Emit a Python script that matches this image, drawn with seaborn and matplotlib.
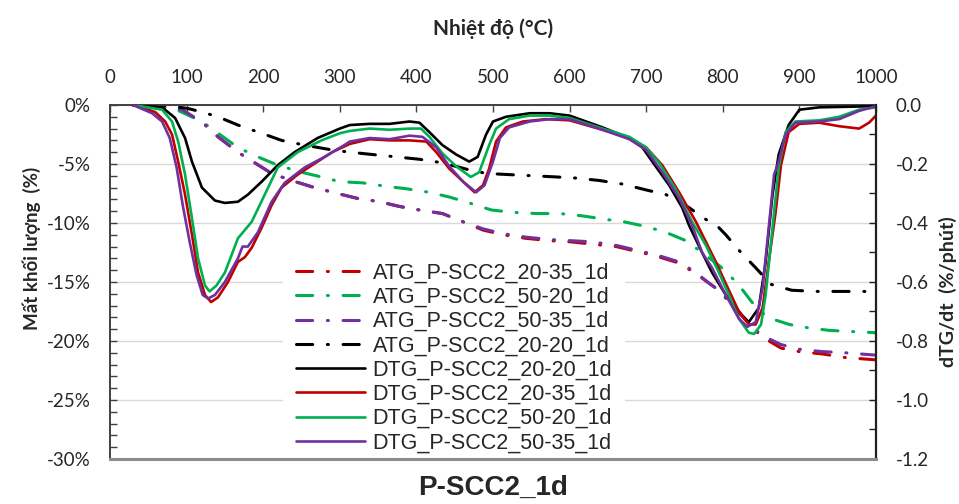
import pandas as pd
import seaborn as sns
import matplotlib.pyplot as plt
from matplotlib.ticker import MultipleLocator, FuncFormatter

# ATG (mass loss, %) - left axis
t_atg_red = [30, 60, 94, 121, 141, 167, 189, 211, 237, 267, 297, 322, 352, 378, 404, 434, 461, 487, 513, 543,
             574, 602, 630, 661, 687, 713, 743, 765, 782, 795, 821, 850, 876, 900, 930, 960, 1000]
atg_red = [0, -0.1, -0.4, -1.5, -2.7, -4.0, -4.9, -5.8, -6.4, -7.0, -7.5, -7.9, -8.2, -8.6, -8.9, -9.2, -9.9, -10.6,
           -11.0, -11.3, -11.5, -11.6, -11.8, -12.0, -12.4, -12.8, -13.4, -14.3, -15.1, -15.7, -17.6, -19.6, -20.6,
           -20.9, -21.1, -21.4, -21.6]

t_atg_green = [30, 60, 90, 120, 139, 167, 193, 219, 250, 276, 300, 330, 361, 387, 417, 443, 469, 498, 526, 557,
               587, 617, 648, 671, 700, 726, 752, 773, 797, 819, 838, 858, 887, 913, 939, 969, 1000]
atg_green = [0, -0.1, -0.5, -1.4, -2.3, -3.6, -4.4, -5.1, -5.7, -6.1, -6.5, -6.6, -6.9, -7.1, -7.4, -7.8, -8.3, -8.9,
             -9.1, -9.2, -9.2, -9.4, -9.7, -9.9, -10.3, -10.8, -11.5, -12.5, -13.7, -15.1, -16.7, -18.0, -18.6,
             -18.9, -19.1, -19.2, -19.3]

t_atg_purple = [30, 60, 94, 121, 141, 167, 189, 211, 237, 267, 297, 322, 352, 378, 404, 434, 461, 487, 513, 543,
                574, 602, 630, 661, 687, 713, 743, 765, 782, 795, 821, 850, 876, 900, 930, 960, 1000]
atg_purple = [0, -0.1, -0.4, -1.5, -2.7, -4.0, -4.9, -5.8, -6.4, -7.0, -7.5, -7.9, -8.2, -8.6, -8.9, -9.2, -9.9,
              -10.5, -10.9, -11.2, -11.4, -11.5, -11.6, -11.9, -12.3, -12.7, -13.3, -14.2, -15.1, -15.7, -17.6,
              -19.5, -20.3, -20.7, -20.9, -21.0, -21.2]

t_atg_black = [30, 60, 80, 102, 120, 141, 167, 198, 224, 254, 289, 313, 343, 374, 404, 434, 469, 491, 521, 552,
               583, 610, 639, 669, 700, 726, 756, 778, 795, 804, 821, 843, 863, 890, 922, 1000]
atg_black = [0, 0, -0.1, -0.3, -0.6, -1.0, -1.7, -2.4, -3.0, -3.4, -3.8, -4.0, -4.2, -4.4, -4.6, -4.9, -5.5, -5.8,
             -5.9, -6.0, -6.1, -6.2, -6.4, -6.7, -7.2, -7.6, -8.7, -9.7, -10.4, -11.0, -12.3, -13.8, -15.2, -15.7,
             -15.8, -15.8]

# DTG (%/phut) - right axis
t_dtg_black = [30, 68, 85, 98, 107, 120, 137, 150, 167, 180, 198, 219, 241, 271, 300, 313, 339, 365, 391, 404,
               417, 434, 452, 469, 480, 491, 500, 517, 548, 574, 600, 643, 678, 695, 708, 730, 747, 756, 773, 786,
               804, 825, 834, 847, 856, 865, 873, 886, 900, 926, 1000]
dtg_black = [0, -0.008, -0.044, -0.112, -0.192, -0.28, -0.324, -0.332, -0.328, -0.304, -0.26, -0.204, -0.16,
             -0.112, -0.08, -0.068, -0.064, -0.064, -0.056, -0.06, -0.092, -0.136, -0.168, -0.192, -0.176, -0.10,
             -0.056, -0.04, -0.028, -0.028, -0.036, -0.076, -0.112, -0.144, -0.192, -0.272, -0.348, -0.408, -0.50,
             -0.568, -0.644, -0.712, -0.736, -0.688, -0.532, -0.304, -0.168, -0.068, -0.016, -0.008, -0.004]

t_dtg_red = [30, 59, 72, 81, 89, 98, 107, 115, 124, 132, 141, 154, 167, 176, 185, 198, 211, 224, 245, 271, 290,
             313, 339, 365, 391, 413, 426, 443, 461, 476, 487, 495, 504, 517, 539, 569, 600, 643, 678, 700, 721,
             743, 765, 778, 791, 808, 821, 834, 843, 852, 860, 869, 876, 886, 900, 926, 952, 978, 991, 1000]
dtg_red = [0, -0.024, -0.056, -0.10, -0.192, -0.304, -0.44, -0.568, -0.644, -0.668, -0.652, -0.60, -0.532,
           -0.516, -0.484, -0.416, -0.34, -0.28, -0.236, -0.192, -0.16, -0.132, -0.116, -0.12, -0.12, -0.124,
           -0.16, -0.216, -0.26, -0.296, -0.272, -0.216, -0.124, -0.076, -0.056, -0.048, -0.052, -0.084, -0.112,
           -0.144, -0.204, -0.296, -0.396, -0.464, -0.532, -0.628, -0.70, -0.744, -0.744, -0.688, -0.532, -0.364,
           -0.204, -0.092, -0.064, -0.06, -0.072, -0.08, -0.06, -0.036]

t_dtg_green = [30, 68, 81, 89, 98, 107, 115, 124, 130, 139, 150, 167, 185, 202, 219, 245, 276, 300, 313, 339,
               365, 391, 406, 417, 434, 452, 471, 482, 495, 504, 521, 548, 574, 600, 643, 678, 700, 717, 739, 760,
               778, 795, 808, 821, 834, 841, 850, 856, 865, 873, 882, 895, 926, 952, 978, 1000]
dtg_green = [0, -0.016, -0.056, -0.124, -0.236, -0.384, -0.52, -0.612, -0.632, -0.612, -0.568, -0.452, -0.396,
             -0.304, -0.212, -0.16, -0.12, -0.096, -0.088, -0.08, -0.084, -0.08, -0.08, -0.108, -0.164, -0.208,
             -0.244, -0.228, -0.136, -0.08, -0.048, -0.036, -0.036, -0.044, -0.08, -0.108, -0.144, -0.196, -0.288,
             -0.396, -0.476, -0.568, -0.644, -0.724, -0.772, -0.776, -0.744, -0.644, -0.416, -0.212, -0.092,
             -0.056, -0.052, -0.04, -0.016, -0.008]

t_dtg_purple = [30, 55, 68, 78, 87, 95, 104, 113, 121, 128, 137, 150, 167, 173, 180, 193, 211, 228, 254, 280,
                306, 313, 339, 365, 391, 408, 426, 443, 461, 478, 489, 500, 509, 521, 548, 574, 600, 643, 678, 700,
                721, 743, 760, 773, 786, 804, 821, 832, 843, 852, 860, 867, 873, 882, 895, 926, 952, 978, 1000]
dtg_purple = [0, -0.028, -0.056, -0.112, -0.212, -0.34, -0.464, -0.576, -0.644, -0.656, -0.644, -0.60, -0.52,
              -0.48, -0.48, -0.432, -0.328, -0.264, -0.212, -0.176, -0.136, -0.124, -0.112, -0.116, -0.104, -0.108,
              -0.144, -0.208, -0.26, -0.296, -0.272, -0.192, -0.112, -0.076, -0.056, -0.048, -0.048, -0.084,
              -0.116, -0.152, -0.228, -0.316, -0.408, -0.50, -0.552, -0.644, -0.724, -0.752, -0.736, -0.62, -0.416,
              -0.236, -0.192, -0.10, -0.06, -0.056, -0.048, -0.02, -0.004]

atg_series = [
    (t_atg_red, atg_red, '#C00000', 'ATG_P-SCC2_20-35_1d'),
    (t_atg_green, atg_green, '#00B050', 'ATG_P-SCC2_50-20_1d'),
    (t_atg_purple, atg_purple, '#7030A0', 'ATG_P-SCC2_50-35_1d'),
    (t_atg_black, atg_black, '#000000', 'ATG_P-SCC2_20-20_1d'),
]
dtg_series = [
    (t_dtg_black, dtg_black, '#000000', 'DTG_P-SCC2_20-20_1d'),
    (t_dtg_red, dtg_red, '#C00000', 'DTG_P-SCC2_20-35_1d'),
    (t_dtg_green, dtg_green, '#00B050', 'DTG_P-SCC2_50-20_1d'),
    (t_dtg_purple, dtg_purple, '#7030A0', 'DTG_P-SCC2_50-35_1d'),
]

sns.set_theme(style="white")
plt.rcParams['font.family'] = ['Lato', 'DejaVu Sans']

fig = plt.figure(figsize=(9.59, 5.04), dpi=100)
ax = fig.add_axes([0.1147, 0.0893, 0.7987, 0.7024])
ax2 = ax.twinx()

dashdot = (0, (5.3, 4.8, 0.35, 4.8))
for t, v, c, lab in atg_series:
    df = pd.DataFrame({'T': t, 'v': v})
    sns.lineplot(data=df, x='T', y='v', ax=ax, color=c, lw=2.2, linestyle=dashdot,
                 dash_capstyle='round', label=lab, legend=False, errorbar=None)

for t, v, c, lab in dtg_series:
    df = pd.DataFrame({'T': t, 'v': v})
    sns.lineplot(data=df, x='T', y='v', ax=ax2, color=c, lw=1.9, label=lab, legend=False, errorbar=None)

ax.set_xlim(0, 1000)
ax.set_ylim(-30, 0)
ax2.set_ylim(-1.2, 0)

# top x axis
ax.xaxis.set_ticks_position('top')
ax.xaxis.set_label_position('top')
ax.xaxis.set_major_locator(MultipleLocator(100))
ax.tick_params(axis='x', direction='in', top=True, bottom=False, length=5, width=1,
               color='#404040', labelsize=13.5, pad=14)
ax.set_xlabel('Nhiệt độ (°C)', fontsize=15, fontweight='bold', labelpad=24)

# left axis
ax.yaxis.set_major_locator(MultipleLocator(5))
ax.yaxis.set_minor_locator(MultipleLocator(1))
ax.yaxis.set_major_formatter(FuncFormatter(lambda v, p: f"{v:.0f}%"))
ax.tick_params(axis='y', which='both', direction='in', left=True, right=False, length=5, width=1,
               color='#404040', labelsize=13.5, pad=14)
ax.set_ylabel('')
ax.grid(axis='y', color='#d9d9d9', lw=1)
ax.grid(axis='x', visible=False)

# right axis
ax2.yaxis.set_major_locator(MultipleLocator(0.2))
ax2.yaxis.set_minor_locator(MultipleLocator(0.1))
ax2.yaxis.set_major_formatter(FuncFormatter(lambda v, p: "0.0" if abs(v) < 1e-9 else f"{v:.1f}"))
ax2.tick_params(axis='y', which='both', direction='in', right=True, left=False, length=5, width=1,
                color='#202020', labelsize=13.5, pad=14)
ax2.set_ylabel('')
ax2.set_xlabel('')

for s in ['left', 'top']:
    ax.spines[s].set_color('#404040')
    ax.spines[s].set_linewidth(1.4)
ax.spines['right'].set_visible(False)
ax.spines['bottom'].set_visible(False)
for s in ['left', 'top']:
    ax2.spines[s].set_visible(False)
ax2.spines['bottom'].set_color('#8c8c8c')
ax2.spines['bottom'].set_linewidth(2.2)
ax2.spines['bottom'].set_zorder(6)
ax2.spines['right'].set_color('#202020')
ax2.spines['right'].set_linewidth(1.6)
ax2.spines['right'].set_zorder(6)

fig.text(32 / 959, 1 - 248 / 504, 'Mất khối lượng  (%)', rotation=90, ha='center', va='center',
         fontsize=13.5, fontweight='bold')
fig.text(948 / 959, 1 - 292 / 504, 'dTG/dt  (%/phút)', rotation=90, ha='center', va='center',
         fontsize=14, fontweight='bold')
fig.text(493 / 959, 1 - 488 / 504, 'P-SCC2_1d', ha='center', va='center', fontsize=20,
         fontweight='bold', family=['Liberation Sans', 'DejaVu Sans'])

h1, l1 = ax.get_legend_handles_labels()
h2, l2 = ax2.get_legend_handles_labels()
leg = ax2.legend(h1 + h2, l1 + l2, loc='center', bbox_to_anchor=(454 / 959, 1 - 358 / 504),
                 bbox_transform=fig.transFigure, frameon=True, facecolor='white', edgecolor='none',
                 framealpha=1, fancybox=False, prop={'family': ['Liberation Sans', 'DejaVu Sans'], 'size': 15.5},
                 handlelength=3.2, handletextpad=0.38, labelspacing=0.15, borderpad=0.6)
leg.set_zorder(5)

fig.savefig('out.png', dpi=100)
